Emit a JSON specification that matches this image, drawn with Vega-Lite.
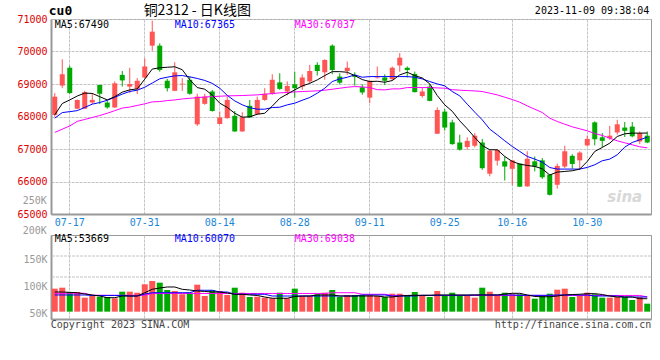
{
"$schema": "https://vega.github.io/schema/vega-lite/v6.json",
"padding": {"left": 16, "top": 3, "right": 9, "bottom": 0},
"background": "white",
"config": {
  "view": {"stroke": "#999999", "strokeWidth": 1},
  "axis": {"labelFont": "DejaVu Sans Mono", "labelFontSize": 10, "ticks": false, "gridColor": "#c4c4c4", "gridDash": [3, 1], "gridWidth": 1, "gridOpacity": 1, "domainColor": "#999999", "domainWidth": 2, "labelOverlap": false, "labelBound": false, "labelFlush": false}
},
"datasets": {"k": [
{"d":"07-13","o":68050,"h":68720,"l":67990,"c":68610,"v":96900,"m5":68050,"m10":67950,"m30":67510,"vm5":90700,"vm10":85200,"vm30":88300},
{"d":"07-14","o":68950,"h":69760,"l":68870,"c":69300,"v":98700,"m5":68400,"m10":68120,"m30":67610,"vm5":90700,"vm10":85200,"vm30":88300},
{"d":"07-17","o":69500,"h":69560,"l":68700,"c":68720,"v":90700,"m5":68510,"m10":68150,"m30":67710,"vm5":90000,"vm10":85200,"vm30":88300},
{"d":"07-18","o":68240,"h":68520,"l":68220,"c":68510,"v":90700,"m5":68630,"m10":68180,"m30":67850,"vm5":89400,"vm10":85200,"vm30":88300},
{"d":"07-19","o":68240,"h":68790,"l":68230,"c":68750,"v":80200,"m5":68720,"m10":68280,"m30":67910,"vm5":87000,"vm10":85200,"vm30":88300},
{"d":"07-20","o":68430,"h":68720,"l":68380,"c":68510,"v":83300,"m5":68710,"m10":68380,"m30":67970,"vm5":85200,"vm10":84300,"vm30":84600},
{"d":"07-21","o":68970,"h":68980,"l":68380,"c":68700,"v":82000,"m5":68610,"m10":68430,"m30":68030,"vm5":83300,"vm10":84300,"vm30":84600},
{"d":"07-24","o":68430,"h":68480,"l":68240,"c":68280,"v":81500,"m5":68510,"m10":68500,"m30":68100,"vm5":80200,"vm10":84300,"vm30":84600},
{"d":"07-25","o":68280,"h":69080,"l":68260,"c":69020,"v":79100,"m5":68610,"m10":68590,"m30":68180,"vm5":80200,"vm10":84300,"vm30":84600},
{"d":"07-26","o":69280,"h":69400,"l":68920,"c":69110,"v":91300,"m5":68750,"m10":68690,"m30":68260,"vm5":83300,"vm10":84300,"vm30":84600},
{"d":"07-27","o":68920,"h":69500,"l":68720,"c":69000,"v":91300,"m5":68820,"m10":68770,"m30":68290,"vm5":83300,"vm10":83300,"vm30":84600},
{"d":"07-28","o":68850,"h":69180,"l":68690,"c":69100,"v":89400,"m5":68850,"m10":68810,"m30":68340,"vm5":83300,"vm10":83300,"vm30":84600},
{"d":"07-31","o":69200,"h":69790,"l":69180,"c":69540,"v":105000,"m5":69150,"m10":68900,"m30":68390,"vm5":89400,"vm10":87000,"vm30":84600},
{"d":"08-01","o":70180,"h":70950,"l":70020,"c":70610,"v":111100,"m5":69460,"m10":69030,"m30":68450,"vm5":95700,"vm10":89400,"vm30":88000},
{"d":"08-02","o":70180,"h":70250,"l":69380,"c":69430,"v":108000,"m5":69500,"m10":69160,"m30":68460,"vm5":98100,"vm10":89400,"vm30":88000},
{"d":"08-03","o":69100,"h":69160,"l":68770,"c":68870,"v":94400,"m5":69515,"m10":69210,"m30":68490,"vm5":100000,"vm10":89400,"vm30":88000},
{"d":"08-04","o":68790,"h":69670,"l":68780,"c":69360,"v":92600,"m5":69530,"m10":69250,"m30":68510,"vm5":100000,"vm10":89400,"vm30":88000},
{"d":"08-07","o":68990,"h":69180,"l":68790,"c":69010,"v":86500,"m5":69440,"m10":69260,"m30":68540,"vm5":95700,"vm10":89400,"vm30":88000},
{"d":"08-08","o":69130,"h":69230,"l":68670,"c":68700,"v":89400,"m5":69130,"m10":69220,"m30":68560,"vm5":94400,"vm10":89400,"vm30":88000},
{"d":"08-09","o":67760,"h":68700,"l":67710,"c":68610,"v":104300,"m5":68890,"m10":69170,"m30":68580,"vm5":92600,"vm10":93900,"vm30":88000},
{"d":"08-10","o":68390,"h":68700,"l":68360,"c":68610,"v":83300,"m5":68840,"m10":69110,"m30":68600,"vm5":91700,"vm10":93900,"vm30":88000},
{"d":"08-11","o":68770,"h":68820,"l":68150,"c":68170,"v":93900,"m5":68660,"m10":69020,"m30":68610,"vm5":90700,"vm10":93900,"vm30":88000},
{"d":"08-14","o":67770,"h":68150,"l":67760,"c":67970,"v":92600,"m5":68410,"m10":68870,"m30":68625,"vm5":90700,"vm10":90700,"vm30":88000},
{"d":"08-15","o":67950,"h":68610,"l":67930,"c":68510,"v":85200,"m5":68280,"m10":68650,"m30":68635,"vm5":88900,"vm10":90700,"vm30":88000},
{"d":"08-16","o":68020,"h":68170,"l":67530,"c":67540,"v":98700,"m5":68100,"m10":68480,"m30":68640,"vm5":86500,"vm10":86500,"vm30":88000},
{"d":"08-17","o":67540,"h":68130,"l":67530,"c":67980,"v":89400,"m5":67980,"m10":68360,"m30":68645,"vm5":86500,"vm10":86500,"vm30":88000},
{"d":"08-18","o":68330,"h":68510,"l":67960,"c":67970,"v":81500,"m5":67990,"m10":68270,"m30":68655,"vm5":85200,"vm10":86500,"vm30":88000},
{"d":"08-21","o":68070,"h":68610,"l":68060,"c":68510,"v":82000,"m5":68070,"m10":68225,"m30":68665,"vm5":84300,"vm10":86500,"vm30":88000},
{"d":"08-22","o":68510,"h":68870,"l":68480,"c":68700,"v":80200,"m5":68100,"m10":68225,"m30":68686,"vm5":81500,"vm10":86500,"vm30":88000},
{"d":"08-23","o":68700,"h":69300,"l":68670,"c":69130,"v":79100,"m5":68320,"m10":68276,"m30":68705,"vm5":79100,"vm10":83300,"vm30":88000},
{"d":"08-24","o":69050,"h":69330,"l":68820,"c":68850,"v":89400,"m5":68560,"m10":68286,"m30":68727,"vm5":79100,"vm10":83300,"vm30":88000},
{"d":"08-25","o":68770,"h":69080,"l":68650,"c":68940,"v":79100,"m5":68690,"m10":68358,"m30":68740,"vm5":79100,"vm10":83300,"vm30":88000},
{"d":"08-28","o":68990,"h":69380,"l":68580,"c":68870,"v":96900,"m5":68820,"m10":68410,"m30":68757,"vm5":82400,"vm10":83300,"vm30":88000},
{"d":"08-29","o":68920,"h":69300,"l":68820,"c":69200,"v":83300,"m5":68940,"m10":68500,"m30":68768,"vm5":83300,"vm10":83300,"vm30":88000},
{"d":"08-30","o":69080,"h":69590,"l":69020,"c":69400,"v":83300,"m5":69020,"m10":68584,"m30":68778,"vm5":83300,"vm10":83300,"vm30":88000},
{"d":"08-31","o":69590,"h":69670,"l":69260,"c":69400,"v":86500,"m5":69126,"m10":68717,"m30":68790,"vm5":85200,"vm10":83300,"vm30":88000},
{"d":"09-01","o":69360,"h":69760,"l":69130,"c":69740,"v":89400,"m5":69260,"m10":68870,"m30":68809,"vm5":85200,"vm10":83300,"vm30":88000},
{"d":"09-04","o":70180,"h":70220,"l":69300,"c":69430,"v":94400,"m5":69380,"m10":69075,"m30":68839,"vm5":85200,"vm10":83300,"vm30":89400},
{"d":"09-05","o":69230,"h":69330,"l":68990,"c":69040,"v":81500,"m5":69380,"m10":69157,"m30":68870,"vm5":83300,"vm10":83300,"vm30":89400},
{"d":"09-06","o":69400,"h":69690,"l":69280,"c":69500,"v":85200,"m5":69362,"m10":69208,"m30":68901,"vm5":83300,"vm10":83300,"vm30":89400},
{"d":"09-07","o":69280,"h":69360,"l":68950,"c":69220,"v":85200,"m5":69259,"m10":69280,"m30":68921,"vm5":83300,"vm10":83300,"vm30":89400},
{"d":"09-08","o":68900,"h":68990,"l":68670,"c":68740,"v":85200,"m5":69136,"m10":69208,"m30":68910,"vm5":83300,"vm10":85200,"vm30":86500},
{"d":"09-11","o":68580,"h":69100,"l":68410,"c":69100,"v":85200,"m5":69075,"m10":69228,"m30":68890,"vm5":83300,"vm10":85200,"vm30":86500},
{"d":"09-12","o":69180,"h":69540,"l":69170,"c":69200,"v":83300,"m5":69085,"m10":69228,"m30":68825,"vm5":83300,"vm10":85200,"vm30":86500},
{"d":"09-13","o":69200,"h":69300,"l":68970,"c":69100,"v":81500,"m5":69054,"m10":69228,"m30":68819,"vm5":81500,"vm10":85200,"vm30":86500},
{"d":"09-14","o":69150,"h":69540,"l":69100,"c":69500,"v":87600,"m5":69106,"m10":69228,"m30":68850,"vm5":81500,"vm10":83300,"vm30":84300},
{"d":"09-15","o":69570,"h":69950,"l":69380,"c":69810,"v":87600,"m5":69280,"m10":69228,"m30":68850,"vm5":83300,"vm10":83300,"vm30":84300},
{"d":"09-18","o":69500,"h":69540,"l":69200,"c":69430,"v":83300,"m5":69362,"m10":69228,"m30":68890,"vm5":84300,"vm10":83300,"vm30":84300},
{"d":"09-19","o":69310,"h":69380,"l":68740,"c":68750,"v":90700,"m5":69259,"m10":69208,"m30":68890,"vm5":84600,"vm10":83300,"vm30":84300},
{"d":"09-20","o":68630,"h":68890,"l":68580,"c":68770,"v":85200,"m5":69187,"m10":69157,"m30":68890,"vm5":84600,"vm10":84600,"vm30":84300},
{"d":"09-21","o":68920,"h":68990,"l":68470,"c":68480,"v":81500,"m5":69003,"m10":69075,"m30":68890,"vm5":84600,"vm10":84600,"vm30":84300},
{"d":"09-22","o":67470,"h":68280,"l":67460,"c":68200,"v":92600,"m5":68645,"m10":69003,"m30":68880,"vm5":85200,"vm10":84600,"vm30":84300},
{"d":"09-25","o":68150,"h":68230,"l":67570,"c":67660,"v":83300,"m5":68358,"m10":68942,"m30":68870,"vm5":85200,"vm10":84600,"vm30":84300},
{"d":"09-26","o":67820,"h":67900,"l":67130,"c":67150,"v":89400,"m5":68160,"m10":68768,"m30":68825,"vm5":85200,"vm10":84600,"vm30":84300},
{"d":"09-27","o":67200,"h":67440,"l":66950,"c":66980,"v":83300,"m5":67867,"m10":68635,"m30":68810,"vm5":85200,"vm10":84600,"vm30":84300},
{"d":"09-28","o":67060,"h":67360,"l":66980,"c":67250,"v":83300,"m5":67621,"m10":68379,"m30":68798,"vm5":85200,"vm10":84600,"vm30":84300},
{"d":"10-09","o":67100,"h":67490,"l":67050,"c":67410,"v":80200,"m5":67355,"m10":68133,"m30":68788,"vm5":85200,"vm10":85200,"vm30":84300},
{"d":"10-10","o":67200,"h":67310,"l":66360,"c":66410,"v":98700,"m5":67109,"m10":67897,"m30":68768,"vm5":85200,"vm10":85200,"vm30":84300},
{"d":"10-11","o":66240,"h":66980,"l":66160,"c":66950,"v":91300,"m5":66976,"m10":67611,"m30":68717,"vm5":85200,"vm10":85200,"vm30":84300},
{"d":"10-12","o":66640,"h":66990,"l":66490,"c":66970,"v":85200,"m5":66976,"m10":67437,"m30":68665,"vm5":85200,"vm10":85200,"vm30":84300},
{"d":"10-13","o":66620,"h":66770,"l":66030,"c":66460,"v":89400,"m5":66771,"m10":67252,"m30":68594,"vm5":87000,"vm10":85200,"vm30":84300},
{"d":"10-16","o":66390,"h":66660,"l":65880,"c":66650,"v":86500,"m5":66617,"m10":67078,"m30":68522,"vm5":88300,"vm10":85200,"vm30":84300},
{"d":"10-17","o":66550,"h":66560,"l":65830,"c":65840,"v":86500,"m5":66535,"m10":66925,"m30":68440,"vm5":88300,"vm10":84600,"vm30":84300},
{"d":"10-18","o":65850,"h":66930,"l":65840,"c":66700,"v":83300,"m5":66494,"m10":66771,"m30":68327,"vm5":85200,"vm10":84600,"vm30":84300},
{"d":"10-19","o":66620,"h":66770,"l":66310,"c":66460,"v":78300,"m5":66464,"m10":66689,"m30":68225,"vm5":82400,"vm10":84600,"vm30":84300},
{"d":"10-20","o":66650,"h":66720,"l":66080,"c":66130,"v":83300,"m5":66392,"m10":66597,"m30":68123,"vm5":81900,"vm10":84600,"vm30":84300},
{"d":"10-23","o":66210,"h":66230,"l":65570,"c":65590,"v":87600,"m5":66200,"m10":66430,"m30":67950,"vm5":81900,"vm10":84600,"vm30":84300},
{"d":"10-24","o":65900,"h":66550,"l":65780,"c":66480,"v":95000,"m5":66290,"m10":66382,"m30":67846,"vm5":83300,"vm10":85200,"vm30":84300},
{"d":"10-25","o":66460,"h":67100,"l":66410,"c":66930,"v":96900,"m5":66310,"m10":66382,"m30":67764,"vm5":85200,"vm10":85200,"vm30":84300},
{"d":"10-26","o":66790,"h":66840,"l":66390,"c":66540,"v":81500,"m5":66330,"m10":66382,"m30":67682,"vm5":86100,"vm10":85200,"vm30":84300},
{"d":"10-27","o":66650,"h":66930,"l":66360,"c":66890,"v":85200,"m5":66382,"m10":66382,"m30":67621,"vm5":86500,"vm10":85200,"vm30":84300},
{"d":"10-30","o":67110,"h":67410,"l":67080,"c":67310,"v":89400,"m5":66617,"m10":66433,"m30":67560,"vm5":87600,"vm10":85200,"vm30":84300},
{"d":"10-31","o":67820,"h":67850,"l":67110,"c":67300,"v":86500,"m5":66925,"m10":66515,"m30":67478,"vm5":87600,"vm10":83300,"vm30":84300},
{"d":"11-01","o":67360,"h":67490,"l":67060,"c":67250,"v":80200,"m5":67048,"m10":66638,"m30":67416,"vm5":86100,"vm10":83300,"vm30":84300},
{"d":"11-02","o":67330,"h":67710,"l":67280,"c":67410,"v":80200,"m5":67180,"m10":66689,"m30":67334,"vm5":83300,"vm10":83300,"vm30":84300},
{"d":"11-03","o":67510,"h":67900,"l":67440,"c":67760,"v":81500,"m5":67385,"m10":66822,"m30":67252,"vm5":81500,"vm10":83300,"vm30":84300},
{"d":"11-06","o":67660,"h":67830,"l":67370,"c":67560,"v":81500,"m5":67467,"m10":67058,"m30":67191,"vm5":81500,"vm10":81500,"vm30":84300},
{"d":"11-07","o":67690,"h":67830,"l":67360,"c":67390,"v":75900,"m5":67488,"m10":67201,"m30":67130,"vm5":81500,"vm10":81500,"vm30":84300},
{"d":"11-08","o":67230,"h":67540,"l":67150,"c":67490,"v":81500,"m5":67488,"m10":67283,"m30":67068,"vm5":78300,"vm10":81500,"vm30":84300},
{"d":"11-09","o":67410,"h":67540,"l":67180,"c":67200,"v":69100,"m5":67490,"m10":67365,"m30":67037,"vm5":78300,"vm10":81500,"vm30":81500}
]},
"bounds": "flush",
"spacing": 21,
"vconcat": [
{
  "width": 600, "height": 195,
  "data": {"name": "k"},
  "encoding": {
    "x": {"field": "d", "type": "ordinal", "sort": null,
          "scale": {"paddingInner": 0, "paddingOuter": 0},
          "axis": {"title": null, "values": ["07-17","07-31","08-14","08-28","09-11","09-25","10-16","10-30"], "labelAngle": 0, "labelColor": "#1a86d8", "labelPadding": 3, "labelOverlap": false, "grid": true}}
  },
  "layer": [
    {"mark": {"type": "rule", "strokeWidth": 1},
     "encoding": {
       "y": {"field": "l", "type": "quantitative", "scale": {"domain": [65000, 71000], "zero": false, "nice": false},
             "axis": {"title": null, "values": [65000,66000,67000,68000,69000,70000,71000], "tickCount": 20, "format": "d", "labelColor": "#e00000", "labelPadding": 4, "labelOverlap": false, "grid": true}},
       "y2": {"field": "h"},
       "color": {"condition": {"test": "datum.c >= datum.o", "value": "#ff5555"}, "value": "#00a800"}}},
    {"mark": {"type": "bar", "size": 5},
     "encoding": {
       "y": {"field": "o", "type": "quantitative"},
       "y2": {"field": "c"},
       "color": {"condition": {"test": "datum.c >= datum.o", "value": "#ff5555"}, "value": "#00a800"}}},
    {"mark": {"type": "line", "color": "#ff00ff", "strokeWidth": 1}, "encoding": {"y": {"field": "m30", "type": "quantitative"}}},
    {"mark": {"type": "line", "color": "#0000ff", "strokeWidth": 1}, "encoding": {"y": {"field": "m10", "type": "quantitative"}}},
    {"mark": {"type": "line", "color": "#000000", "strokeWidth": 1}, "encoding": {"y": {"field": "m5", "type": "quantitative"}}},
    {"data": {"values": [{}]}, "mark": {"type": "text", "text": "MA5:67490", "font": "DejaVu Sans Mono", "fontSize": 10, "align": "left", "baseline": "middle", "color": "#000000"},
     "encoding": {"x": {"datum": "07-13"}, "y": {"datum": 70815}}},
    {"data": {"values": [{}]}, "mark": {"type": "text", "text": "MA10:67365", "font": "DejaVu Sans Mono", "fontSize": 10, "align": "left", "baseline": "middle", "color": "#0000ff"},
     "encoding": {"x": {"datum": "08-04"}, "y": {"datum": 70815}}},
    {"data": {"values": [{}]}, "mark": {"type": "text", "text": "MA30:67037", "font": "DejaVu Sans Mono", "fontSize": 10, "align": "left", "baseline": "middle", "color": "#ff00ff"},
     "encoding": {"x": {"datum": "08-28"}, "y": {"datum": 70815}}},
    {"data": {"values": [{}]}, "mark": {"type": "text", "text": "cu0", "font": "DejaVu Sans Mono", "fontSize": 13, "fontWeight": "bold", "align": "left", "baseline": "middle", "dx": -6, "color": "#000000"},
     "encoding": {"x": {"datum": "07-13"}, "y": {"datum": 71250}}},
    {"data": {"values": [{}]}, "mark": {"type": "text", "text": "铜2312 - 日K线图", "font": "Noto Sans CJK SC", "fontSize": 14, "align": "center", "baseline": "middle", "color": "#000000"},
     "encoding": {"x": {"datum": "08-09"}, "y": {"datum": 71250}}},
    {"data": {"values": [{}]}, "mark": {"type": "text", "text": "2023-11-09 09:38:04", "font": "DejaVu Sans Mono", "fontSize": 10, "align": "right", "baseline": "middle", "dx": 2, "color": "#000000"},
     "encoding": {"x": {"datum": "11-09"}, "y": {"datum": 71250}}},
    {"data": {"values": [{}]}, "mark": {"type": "text", "text": "sina", "font": "DejaVu Sans", "fontSize": 15, "fontWeight": "bold", "fontStyle": "italic", "align": "center", "baseline": "middle", "color": "#d8d8d8"},
     "encoding": {"x": {"datum": "11-06"}, "y": {"datum": 65520}}}
  ]
},
{
  "width": 600, "height": 84,
  "data": {"name": "k"},
  "layer": [
    {"mark": {"type": "bar", "size": 6},
     "encoding": {
       "x": {"field": "d", "type": "ordinal", "sort": null,
             "scale": {"paddingInner": 0, "paddingOuter": 0},
             "axis": {"title": null, "values": ["07-17","07-31","08-14","08-28","09-11","09-25","10-16","10-30"], "labels": false, "grid": true}},
       "y": {"field": "v", "type": "quantitative", "scale": {"domain": [40700, 196300], "zero": false, "nice": false},
             "axis": {"title": null, "values": [50000,100000,150000], "tickCount": 20, "labelExpr": "(datum.value/1000) + 'K'", "labelColor": "#999999", "labelPadding": 4, "labelOverlap": false, "grid": false}},
       "y2": {"datum": 54300},
       "color": {"condition": {"test": "datum.c >= datum.o", "value": "#ff5555"}, "value": "#00a800"}}},
    {"data": {"values": [{}]}, "mark": {"type": "rule", "color": "#c4c4c4", "strokeDash": [3, 1], "strokeWidth": 1}, "encoding": {"y": {"datum": 157400}}},
    {"data": {"values": [{}]}, "mark": {"type": "rule", "color": "#c4c4c4", "strokeDash": [3, 1], "strokeWidth": 1}, "encoding": {"y": {"datum": 118500}}},
    {"mark": {"type": "line", "color": "#ff00ff", "strokeWidth": 1}, "encoding": {"x": {"field": "d", "type": "ordinal", "sort": null}, "y": {"field": "vm30", "type": "quantitative"}}},
    {"mark": {"type": "line", "color": "#0000ff", "strokeWidth": 1}, "encoding": {"x": {"field": "d", "type": "ordinal", "sort": null}, "y": {"field": "vm10", "type": "quantitative"}}},
    {"mark": {"type": "line", "color": "#000000", "strokeWidth": 1}, "encoding": {"x": {"field": "d", "type": "ordinal", "sort": null}, "y": {"field": "vm5", "type": "quantitative"}}},
    {"data": {"values": [{}]}, "mark": {"type": "text", "text": "200K", "font": "DejaVu Sans Mono", "fontSize": 10, "align": "right", "baseline": "middle", "dx": -8, "dy": -2, "color": "#999999"},
     "encoding": {"x": {"datum": "07-13"}, "y": {"datum": 200000}}},
    {"data": {"values": [{}]}, "mark": {"type": "text", "text": "250K", "font": "DejaVu Sans Mono", "fontSize": 10, "align": "right", "baseline": "middle", "dx": -8, "dy": -5, "color": "#999999"},
     "encoding": {"x": {"datum": "07-13"}, "y": {"datum": 250000}}},
    {"data": {"values": [{}]}, "mark": {"type": "text", "text": "MA5:53669", "font": "DejaVu Sans Mono", "fontSize": 10, "align": "left", "baseline": "middle", "color": "#000000"},
     "encoding": {"x": {"datum": "07-13"}, "y": {"datum": 188900}}},
    {"data": {"values": [{}]}, "mark": {"type": "text", "text": "MA10:60070", "font": "DejaVu Sans Mono", "fontSize": 10, "align": "left", "baseline": "middle", "color": "#0000ff"},
     "encoding": {"x": {"datum": "08-04"}, "y": {"datum": 188900}}},
    {"data": {"values": [{}]}, "mark": {"type": "text", "text": "MA30:69038", "font": "DejaVu Sans Mono", "fontSize": 10, "align": "left", "baseline": "middle", "color": "#ff00ff"},
     "encoding": {"x": {"datum": "08-28"}, "y": {"datum": 188900}}},
    {"data": {"values": [{}]}, "mark": {"type": "text", "text": "Copyright 2023 SINA.COM", "font": "DejaVu Sans Mono", "fontSize": 10, "align": "left", "baseline": "middle", "dx": -4, "color": "#444444"},
     "encoding": {"x": {"datum": "07-13"}, "y": {"datum": 29600}}},
    {"data": {"values": [{}]}, "mark": {"type": "text", "text": "http://finance.sina.com.cn", "font": "DejaVu Sans Mono", "fontSize": 10, "align": "right", "baseline": "middle", "dx": 4, "color": "#444444"},
     "encoding": {"x": {"datum": "11-09"}, "y": {"datum": 29600}}}
  ]
}
]
}
